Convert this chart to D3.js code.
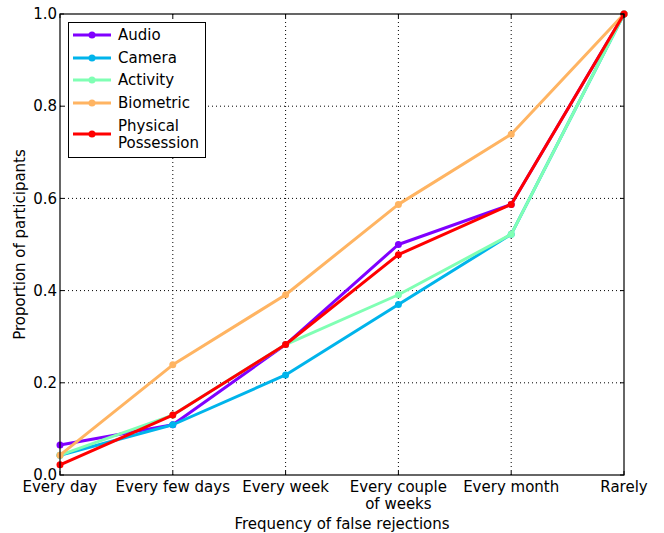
<!DOCTYPE html>
<html>
<head>
<meta charset="utf-8">
<script src="https://cdn.jsdelivr.net/npm/d3@7/dist/d3.min.js"></script>
<style>
  html, body { margin: 0; padding: 0; background: #fff; }
  svg { display: block; font-family: "DejaVu Sans", sans-serif; }
</style>
</head>
<body>
<svg id="chart" width="664" height="533"></svg>
<script>
// Frequency categories on the x axis
const categories = ["Every day", "Every few days", "Every week", "Every couple\nof weeks", "Every month", "Rarely"];

// Cumulative proportion of participants per authentication type
const audio     = [0.065, 0.109, 0.283, 0.500, 0.587, 1.0];
const camera    = [0.043, 0.109, 0.217, 0.370, 0.522, 1.0];
const activity  = [0.043, 0.130, 0.283, 0.391, 0.522, 1.0];
const biometric = [0.043, 0.239, 0.391, 0.587, 0.739, 1.0];
const physical  = [0.022, 0.130, 0.283, 0.478, 0.587, 1.0];

const seriesNames  = ["Audio", "Camera", "Activity", "Biometric", "Physical\nPossession"];
const seriesValues = [audio, camera, activity, biometric, physical];
const seriesColors = ["#8000ff", "#00b4eb", "#80ffb4", "#ffb462", "#ff0000"];

const yTicks = [0.0, 0.2, 0.4, 0.6, 0.8, 1.0];

const FS = 15;
const margin = { left: 60, right: 40, top: 14, bottom: 58 };
const W = 664, H = 533;
const svg = d3.select("#chart");

const x = d3.scalePoint().domain(d3.range(categories.length)).range([margin.left, W - margin.right]);
const y = d3.scaleLinear().domain([0, 1]).range([H - margin.bottom, margin.top]);

const x0 = margin.left, x1 = W - margin.right, y0 = H - margin.bottom, y1 = margin.top;

// dotted grid
const grid = svg.append("g");
grid.selectAll("line.vx").data(d3.range(1, categories.length - 1)).enter().append("line")
  .attr("x1", d => x(d)).attr("x2", d => x(d)).attr("y1", y0).attr("y2", y1)
  .attr("stroke", "#000").attr("stroke-width", 1).attr("stroke-dasharray", "1,3");
grid.selectAll("line.hy").data(yTicks.slice(1, -1)).enter().append("line")
  .attr("x1", x0).attr("x2", x1).attr("y1", d => y(d)).attr("y2", d => y(d))
  .attr("stroke", "#000").attr("stroke-width", 1).attr("stroke-dasharray", "1,3");

// series lines and markers
const line = d3.line().x((d, i) => x(i)).y(d => y(d));
seriesValues.forEach((vals, k) => {
  const g = svg.append("g");
  g.append("path").datum(vals).attr("d", line)
    .attr("fill", "none").attr("stroke", seriesColors[k]).attr("stroke-width", 3)
    .attr("stroke-linejoin", "round");
  g.selectAll("circle").data(vals).enter().append("circle")
    .attr("cx", (d, i) => x(i)).attr("cy", d => y(d)).attr("r", 3.5)
    .attr("fill", seriesColors[k]);
});

// frame
svg.append("rect").attr("x", x0).attr("y", y1).attr("width", x1 - x0).attr("height", y0 - y1)
  .attr("fill", "none").attr("stroke", "#000").attr("stroke-width", 1.2);

// inward ticks on all sides
const tk = svg.append("g").attr("stroke", "#000").attr("stroke-width", 1);
d3.range(categories.length).forEach(i => {
  tk.append("line").attr("x1", x(i)).attr("x2", x(i)).attr("y1", y0).attr("y2", y0 - 4);
  tk.append("line").attr("x1", x(i)).attr("x2", x(i)).attr("y1", y1).attr("y2", y1 + 4);
});
yTicks.forEach(v => {
  tk.append("line").attr("x1", x0).attr("x2", x0 + 4).attr("y1", y(v)).attr("y2", y(v));
  tk.append("line").attr("x1", x1).attr("x2", x1 - 4).attr("y1", y(v)).attr("y2", y(v));
});

// y tick labels
svg.append("g").selectAll("text").data(yTicks).enter().append("text")
  .attr("x", x0 - 3).attr("y", d => y(d)).attr("dy", "0.35em")
  .attr("text-anchor", "end").attr("font-size", FS).text(d => d.toFixed(1));

// x tick labels (may be multi-line)
const xl = svg.append("g");
categories.forEach((c, i) => {
  const t = xl.append("text").attr("x", x(i)).attr("y", y0 + 17)
    .attr("text-anchor", "middle").attr("font-size", FS);
  c.split("\n").forEach((part, j) => {
    t.append("tspan").attr("x", x(i)).attr("dy", j === 0 ? 0 : 17).text(part);
  });
});

// axis titles
svg.append("text").attr("x", (x0 + x1) / 2).attr("y", 529)
  .attr("text-anchor", "middle").attr("font-size", FS).text("Frequency of false rejections");
svg.append("text").attr("transform", `translate(25,${(y0 + y1) / 2}) rotate(-90)`)
  .attr("text-anchor", "middle").attr("font-size", FS).text("Proportion of participants");

// legend
const lg = svg.append("g");
lg.append("rect").attr("x", 68.5).attr("y", 22.5).attr("width", 137).attr("height", 135)
  .attr("fill", "#fff").attr("stroke", "#000").attr("stroke-width", 1);
const rowY = [35, 58, 80, 103, 134];
seriesNames.forEach((name, k) => {
  const cy = rowY[k];
  lg.append("line").attr("x1", 73).attr("x2", 111).attr("y1", cy).attr("y2", cy)
    .attr("stroke", seriesColors[k]).attr("stroke-width", 3);
  lg.append("circle").attr("cx", 92).attr("cy", cy).attr("r", 3.5).attr("fill", seriesColors[k]);
  const parts = name.split("\n");
  const t = lg.append("text").attr("font-size", FS);
  parts.forEach((p, j) => {
    t.append("tspan").attr("x", 118)
      .attr("y", cy + 5 + (j - (parts.length - 1) / 2) * 17).text(p);
  });
});
</script>
</body>
</html>
